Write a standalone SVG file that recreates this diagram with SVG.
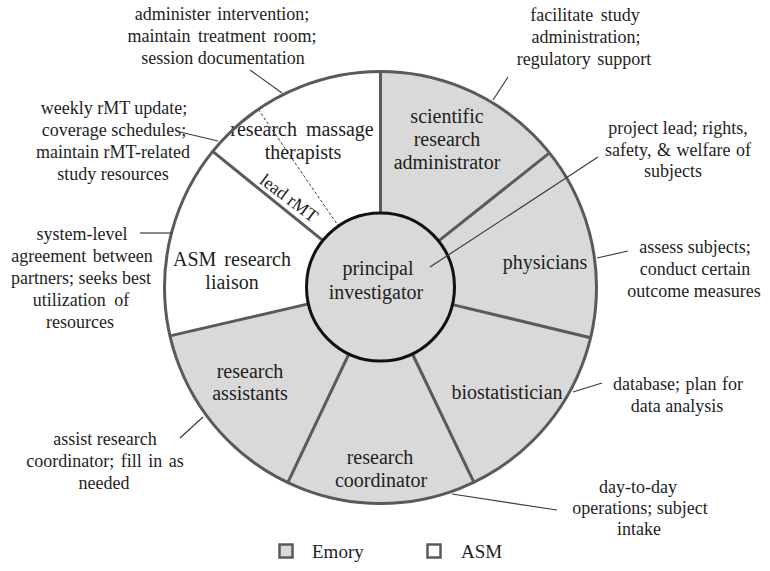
<svg xmlns="http://www.w3.org/2000/svg" width="770" height="571" viewBox="0 0 770 571">
<style>
.emory{fill:#d9d9d9;stroke:none}
.asm{fill:#ffffff;stroke:none}
.spoke{stroke:#5a5a5a;stroke-width:3;fill:none}
.ring{stroke:#5a5a5a;stroke-width:3;fill:none}
.lead{stroke:#3c3c3c;stroke-width:1.2;fill:none}
.dash{stroke:#3c3c3c;stroke-width:1;stroke-dasharray:3 2;fill:none}
text{font-family:'Liberation Serif','Times New Roman',serif;fill:#1e1e1e}
.in{font-size:20px;text-anchor:middle}
.out{font-size:18px;text-anchor:middle}
.leg{font-size:19px}
</style>
<rect width="770" height="571" fill="#ffffff"/>
<g id="scientific-research-administrator">
<path class="emory" d="M 380.5,213.3 L 380.5,71.3 A 216 216 0 0 1 549.5,152.8 L 438.4,241.2 A 74 74 0 0 0 380.5,213.3 Z"/>
<text class="in" x="447" y="123">scientific</text>
<text class="in" x="447" y="146">research</text>
<text class="in" x="447" y="169">administrator</text>
</g>
<g id="physicians">
<path class="emory" d="M 438.4,241.2 L 549.5,152.8 A 216 216 0 0 1 590.5,337.7 L 452.5,304.6 A 74 74 0 0 0 438.4,241.2 Z"/>
<text class="in" x="545" y="269">physicians</text>
</g>
<g id="biostatistician">
<path class="emory" d="M 452.5,304.6 L 590.5,337.7 A 216 216 0 0 1 473.8,482.1 L 412.5,354 A 74 74 0 0 0 452.5,304.6 Z"/>
<text class="in" x="507" y="399">biostatistician</text>
</g>
<g id="research-coordinator">
<path class="emory" d="M 412.5,354 L 473.8,482.1 A 216 216 0 0 1 287.9,482.4 L 348.8,354.1 A 74 74 0 0 0 412.5,354 Z"/>
<text class="in" x="380" y="464">research</text>
<text class="in" x="381" y="487">coordinator</text>
</g>
<g id="research-assistants">
<path class="emory" d="M 348.8,354.1 L 287.9,482.4 A 216 216 0 0 1 170,335.9 L 308.4,303.9 A 74 74 0 0 0 348.8,354.1 Z"/>
<text class="in" x="250" y="378">research</text>
<text class="in" x="250" y="400">assistants</text>
</g>
<g id="asm-research-liaison">
<path class="asm" d="M 308.4,303.9 L 170,335.9 A 216 216 0 0 1 212.7,151.4 L 323,240.7 A 74 74 0 0 0 308.4,303.9 Z"/>
<text class="in" x="232" y="266" word-spacing="3">ASM research</text>
<text class="in" x="232" y="289">liaison</text>
</g>
<g id="research-massage-therapists">
<path class="asm" d="M 323,240.7 L 212.7,151.4 A 216 216 0 0 1 380.5,71.3 L 380.5,213.3 A 74 74 0 0 0 323,240.7 Z"/>
<line class="dash" x1="258.2" y1="109.3" x2="338.6" y2="226.3"/>
<text class="in" x="302" y="136" word-spacing="4">research massage</text>
<text class="in" x="303" y="159">therapists</text>
<text class="out" transform="translate(285.4,202.8) rotate(37)" x="0" y="0">lead rMT</text>
</g>
<g id="dividers">
<line class="spoke" x1="380.5" y1="213.3" x2="380.5" y2="71.3"/>
<line class="spoke" x1="438.4" y1="241.2" x2="549.5" y2="152.8"/>
<line class="spoke" x1="452.5" y1="304.6" x2="590.5" y2="337.7"/>
<line class="spoke" x1="412.5" y1="354" x2="473.8" y2="482.1"/>
<line class="spoke" x1="348.8" y1="354.1" x2="287.9" y2="482.4"/>
<line class="spoke" x1="308.4" y1="303.9" x2="170" y2="335.9"/>
<line class="spoke" x1="323" y1="240.7" x2="212.7" y2="151.4"/>
<circle class="ring" cx="380.5" cy="287.5" r="216"/>
</g>
<g id="principal-investigator">
<circle cx="380.5" cy="287" r="74" fill="#d9d9d9" stroke="#111111" stroke-width="3"/>
<text class="in" x="378" y="275">principal</text>
<text class="in" x="376" y="299">investigator</text>
</g>
<g id="connectors">
<line class="lead" x1="250" y1="70" x2="282" y2="93"/>
<line class="lead" x1="180" y1="132" x2="218" y2="141"/>
<line class="lead" x1="140" y1="233" x2="172" y2="233"/>
<line class="lead" x1="508" y1="77" x2="493" y2="100"/>
<line class="lead" x1="598" y1="157" x2="430" y2="267"/>
<line class="lead" x1="628" y1="251" x2="597" y2="258"/>
<line class="lead" x1="602" y1="383" x2="573" y2="392"/>
<line class="lead" x1="557" y1="510" x2="452" y2="494"/>
<line class="lead" x1="180" y1="438" x2="203" y2="417"/>
</g>
<g id="note-rmt">
<text class="out" x="222" y="20" word-spacing="2">administer intervention;</text>
<text class="out" x="222" y="42" word-spacing="3">maintain treatment room;</text>
<text class="out" x="223" y="64">session documentation</text>
</g>
<g id="note-lead-rmt">
<text class="out" x="114" y="114">weekly rMT update;</text>
<text class="out" x="114" y="136">coverage schedules;</text>
<text class="out" x="113" y="158">maintain rMT-related</text>
<text class="out" x="113" y="180">study resources</text>
</g>
<g id="note-liaison">
<text class="out" x="82" y="240">system-level</text>
<text class="out" x="82" y="262" word-spacing="2">agreement between</text>
<text class="out" x="81" y="284">partners; seeks best</text>
<text class="out" x="81" y="306" word-spacing="4">utilization of</text>
<text class="out" x="80" y="328">resources</text>
</g>
<g id="note-sra">
<text class="out" x="585" y="21" word-spacing="3">facilitate study</text>
<text class="out" x="586" y="43">administration;</text>
<text class="out" x="584" y="65" word-spacing="2">regulatory support</text>
</g>
<g id="note-pi">
<text class="out" x="678" y="134">project lead; rights,</text>
<text class="out" x="678" y="156" word-spacing="1">safety, &amp; welfare of</text>
<text class="out" x="673" y="177">subjects</text>
</g>
<g id="note-physicians">
<text class="out" x="695" y="253">assess subjects;</text>
<text class="out" x="695" y="275">conduct certain</text>
<text class="out" x="694" y="297">outcome measures</text>
</g>
<g id="note-biostatistician">
<text class="out" x="678" y="390" word-spacing="1">database; plan for</text>
<text class="out" x="677" y="412">data analysis</text>
</g>
<g id="note-coordinator">
<text class="out" x="638" y="493">day-to-day</text>
<text class="out" x="640" y="514">operations; subject</text>
<text class="out" x="639" y="535">intake</text>
</g>
<g id="note-assistants">
<text class="out" x="105" y="445">assist research</text>
<text class="out" x="105" y="467" word-spacing="2">coordinator; fill in as</text>
<text class="out" x="104" y="489">needed</text>
</g>
<g id="legend">
<rect x="279.5" y="544.5" width="13" height="13" fill="#d9d9d9" stroke="#5a5a5a" stroke-width="2.5"/>
<text class="leg" x="312" y="558">Emory</text>
<rect x="427.5" y="544.5" width="13" height="13" fill="#ffffff" stroke="#5a5a5a" stroke-width="2.5"/>
<text class="leg" x="461" y="558">ASM</text>
</g>
</svg>
